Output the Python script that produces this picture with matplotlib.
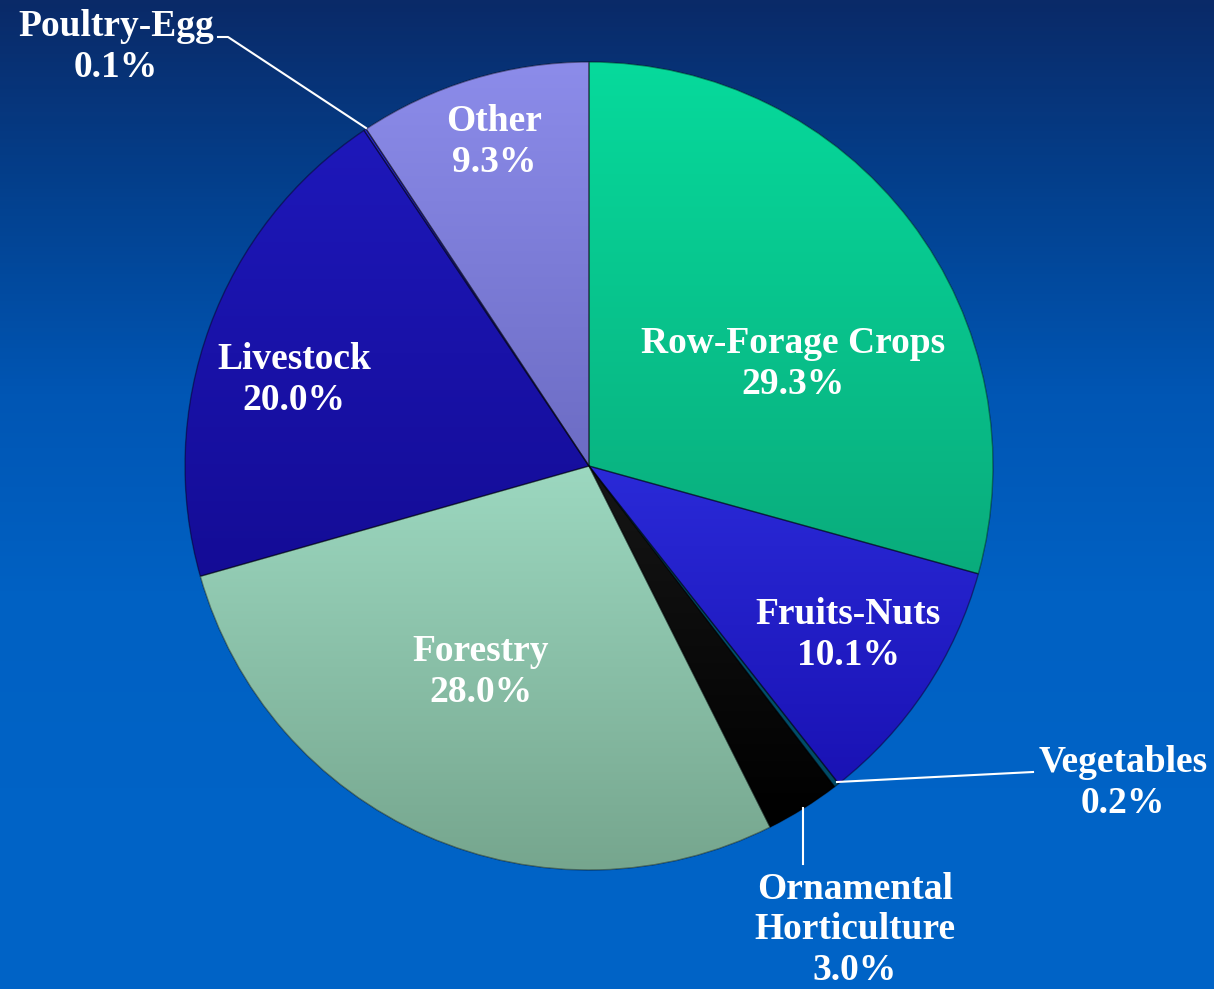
import numpy as np
import matplotlib
matplotlib.use('Agg')
import matplotlib.pyplot as plt
from matplotlib.patches import Wedge
from matplotlib.colors import LinearSegmentedColormap

# ---------------------------------------------------------------
# data (clockwise from 12 o'clock)
# ---------------------------------------------------------------
categories = ['Row-Forage Crops', 'Fruits-Nuts', 'Vegetables',
              'Ornamental\nHorticulture', 'Forestry', 'Livestock',
              'Poultry-Egg', 'Other']
shares = [29.3, 10.1, 0.2, 3.0, 28.0, 20.0, 0.1, 9.3]

# top / bottom shade of each wedge
top_colors = ['#06da9c', '#2a2ad8', '#005c7c', '#161616',
              '#9cd8c0', '#1e18ba', '#2c2cd4', '#8c8cea']
bot_colors = ['#0aac7c', '#1a12b4', '#004a66', '#000000',
              '#76a68e', '#140c96', '#1e1aa8', '#6c6cc4']

# label centres in pixels (layout only) and leader lines
label_px = [(793, 364), (848, 635), (1123, 783), (855, 930),
            (481, 672), (294, 380), (116, 47), (494, 142)]
leaders = {
    'Vegetables': [(837, 782), (1033, 772)],
    'Ornamental\nHorticulture': [(803, 808), (803, 864)],
    'Poultry-Egg': [(366, 128), (228, 37), (218, 37)],
}

W, H = 1214, 989
cx, cy, rad = 589, 466, 404


def to_data(px, py):
    return (px - cx) / rad, (cy - py) / rad


fig = plt.figure(figsize=(W / 100, H / 100), dpi=100)
ax = fig.add_axes([0, 0, 1, 1])
x0, y0 = to_data(0, H)
x1, y1 = to_data(W, 0)

grad = np.linspace(0, 1, 256).reshape(-1, 1)

# background gradient (dark navy at the top, brighter blue below)
bg = LinearSegmentedColormap.from_list(
    'bg', ['#0a2a68', '#03418f', '#0056b4', '#0061c3', '#0063c6', '#0063c6'])
ax.imshow(grad, cmap=bg, extent=[x0, x1, y0, y1], aspect='auto', zorder=0)

wedges, _ = ax.pie(shares, startangle=90, counterclock=False, radius=1,
                   colors=top_colors,
                   wedgeprops=dict(edgecolor='none', linewidth=0))
for w in wedges:
    w.set_zorder(2)

# shading inside each wedge, top to bottom of that wedge
for w, ct, cb in zip(wedges, top_colors, bot_colors):
    ext = w.get_path().get_extents()
    cm = LinearSegmentedColormap.from_list('w', [ct, cb])
    im = ax.imshow(grad, cmap=cm, extent=[ext.x0, ext.x1, ext.y0, ext.y1],
                   aspect='auto', zorder=3)
    im.set_clip_path(w)
    ax.add_patch(Wedge(w.center, w.r, w.theta1, w.theta2, facecolor='none',
                       edgecolor=(0, 0, 0, 0.4), linewidth=1.0, zorder=4))

font = dict(family='Liberation Serif', weight='bold', color='white', size=27)

for cat, val, (px, py) in zip(categories, shares, label_px):
    x, y = to_data(px, py)
    ax.text(x, y, f'{cat}\n{val:.1f}%', ha='center', va='center',
            linespacing=1.22, zorder=6, **font)

for cat, pts in leaders.items():
    xs, ys = zip(*[to_data(p, q) for p, q in pts])
    ax.plot(xs, ys, color='white', lw=1.5, zorder=5)

ax.set_xlim(x0, x1)
ax.set_ylim(y0, y1)
ax.set_aspect('equal')
ax.axis('off')

fig.savefig('out.png', dpi=100)
